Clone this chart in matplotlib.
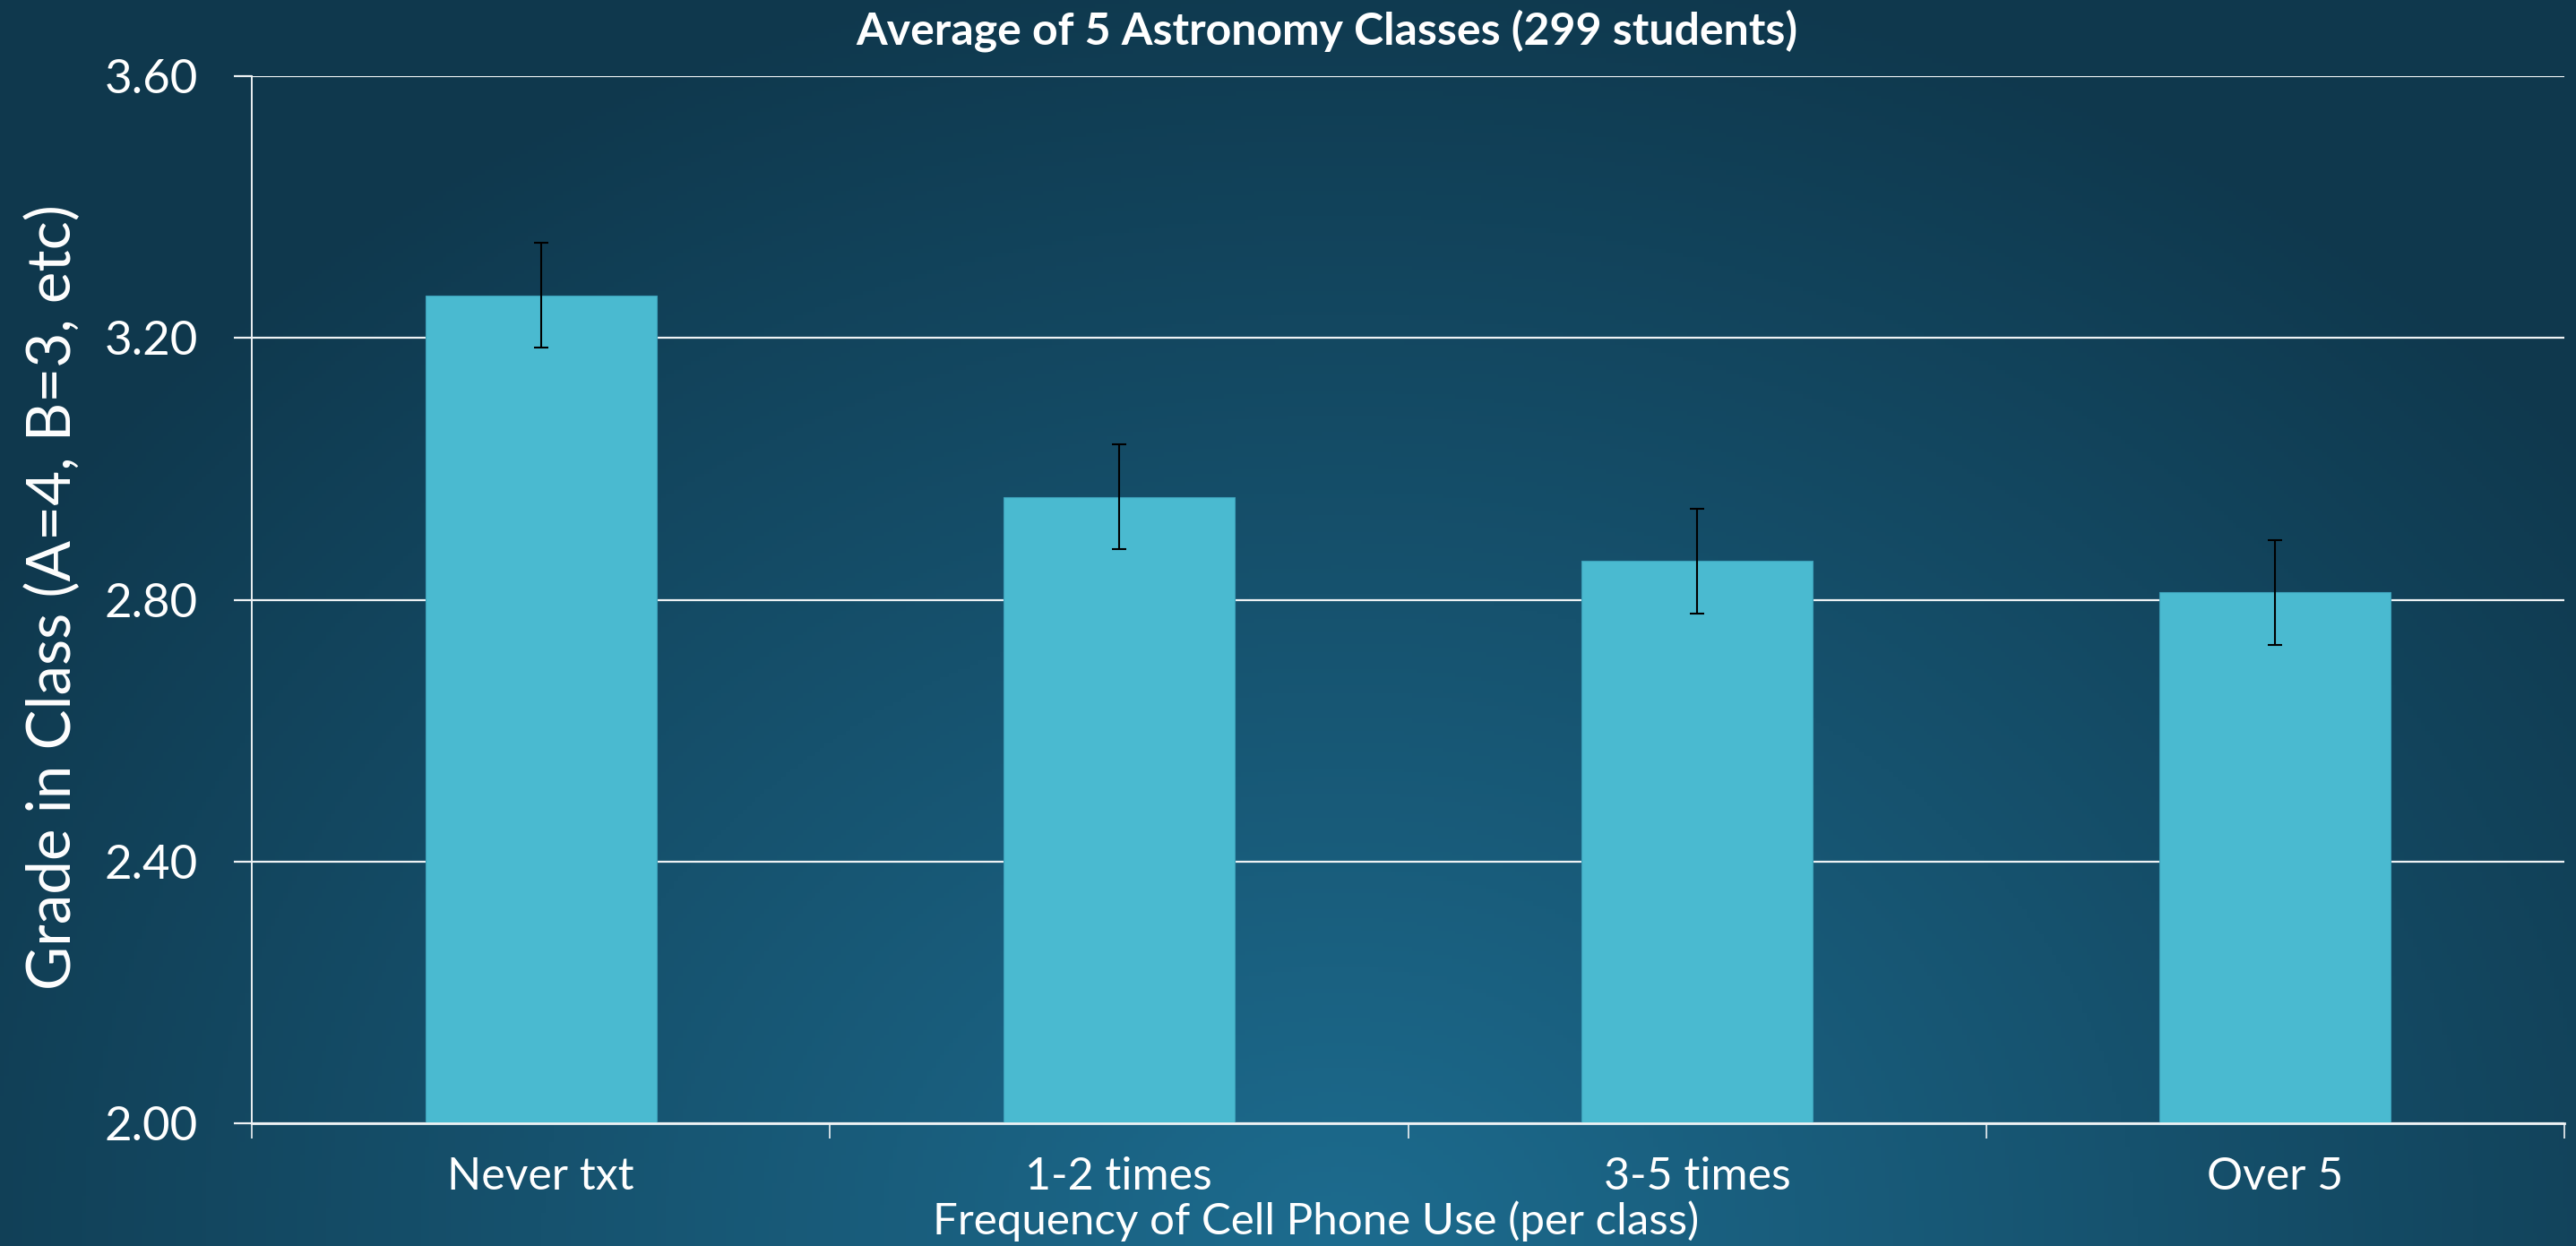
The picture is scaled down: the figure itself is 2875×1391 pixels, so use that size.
import numpy as np
import matplotlib
matplotlib.use("Agg")
import matplotlib.pyplot as plt
from matplotlib.ticker import FixedLocator, NullFormatter, FormatStrFormatter

plt.rcParams['font.family'] = ['Lato', 'DejaVu Sans']

# ---- data ----
categories = ["Never txt", "1-2 times", "3-5 times", "Over 5"]
grades = [3.265, 2.957, 2.859, 2.811]
errors = [0.080, 0.080, 0.080, 0.080]
yticks = [2.00, 2.40, 2.80, 3.20, 3.60]
title = "Average of 5 Astronomy Classes (299 students)"
xlabel = "Frequency of Cell Phone Use (per class)"
ylabel = "Grade in Class (A=4, B=3, etc)"

W, H, DPI = 2875, 1391, 100
fig = plt.figure(figsize=(W / DPI, H / DPI), dpi=DPI)

# background radial gradient
bg = fig.add_axes([0, 0, 1, 1], zorder=-10)
bg.set_axis_off()
ny, nx = 300, 600
xx, yy = np.meshgrid(np.linspace(0, 1, nx), np.linspace(0, 1, ny))
t = np.sqrt(((xx - 0.52) / 0.62) ** 2 + ((yy - 0.0) / 1.05) ** 2)
t = np.clip(t, 0, 1)
c_center = np.array([29, 108, 143]) / 255
c_edge = np.array([15, 56, 77]) / 255
img = c_center[None, None, :] * (1 - t[..., None]) + c_edge[None, None, :] * t[..., None]
bg.imshow(img, origin='lower', extent=[0, 1, 0, 1], aspect='auto')
bg.set_xlim(0, 1)
bg.set_ylim(0, 1)

ax = fig.add_axes([281 / W, 137 / H, (2862 - 281) / W, (1306 - 137) / H])
ax.patch.set_alpha(0)

x = np.arange(len(categories))
ax.bar(x, grades, width=0.4, color='#4ABAD0', edgecolor='#3b9fb8', linewidth=0.8, zorder=2)
ax.errorbar(x, grades, yerr=errors, fmt='none', ecolor='black', elinewidth=1.5,
            capsize=6, capthick=1.5, zorder=3)

ax.set_xlim(-0.5, len(categories) - 0.5)
ax.set_ylim(2.0, 3.6)
ax.set_yticks(yticks)
ax.yaxis.set_major_formatter(FormatStrFormatter('%.2f'))
ax.yaxis.grid(True, color='#eef2f4', linewidth=1.6)
ax.set_axisbelow(True)

ax.xaxis.set_major_locator(FixedLocator(np.arange(-0.5, len(categories), 1.0)))
ax.xaxis.set_major_formatter(NullFormatter())
ax.set_xticks(x, minor=True)
ax.set_xticklabels(categories, minor=True)
ax.tick_params(axis='x', which='major', length=12, width=1.2, color='#eef2f4', direction='out')
ax.tick_params(axis='x', which='minor', length=0, pad=27, labelsize=36, labelcolor='white')
ax.tick_params(axis='y', length=14.4, width=1.6, color='#eef2f4', pad=29,
               labelsize=38, labelcolor='white')

for s in ['top', 'right']:
    ax.spines[s].set_visible(False)
ax.spines['left'].set_color('#eef2f4')
ax.spines['left'].set_linewidth(1.4)
ax.spines['bottom'].set_color('#eef2f4')
ax.spines['bottom'].set_linewidth(2.0)

fig.text(1481 / W, (H - 50) / H, title, ha='center', va='baseline',
         fontsize=36, fontweight='bold', color='white')
fig.text(1469 / W, (H - 1378) / H, xlabel, ha='center', va='baseline',
         fontsize=35.5, color='white')
fig.text(60 / W, (H - 667) / H, ylabel, ha='center', va='center', rotation=90,
         fontsize=48.5, color='white')

fig.savefig('out.png', dpi=DPI)
